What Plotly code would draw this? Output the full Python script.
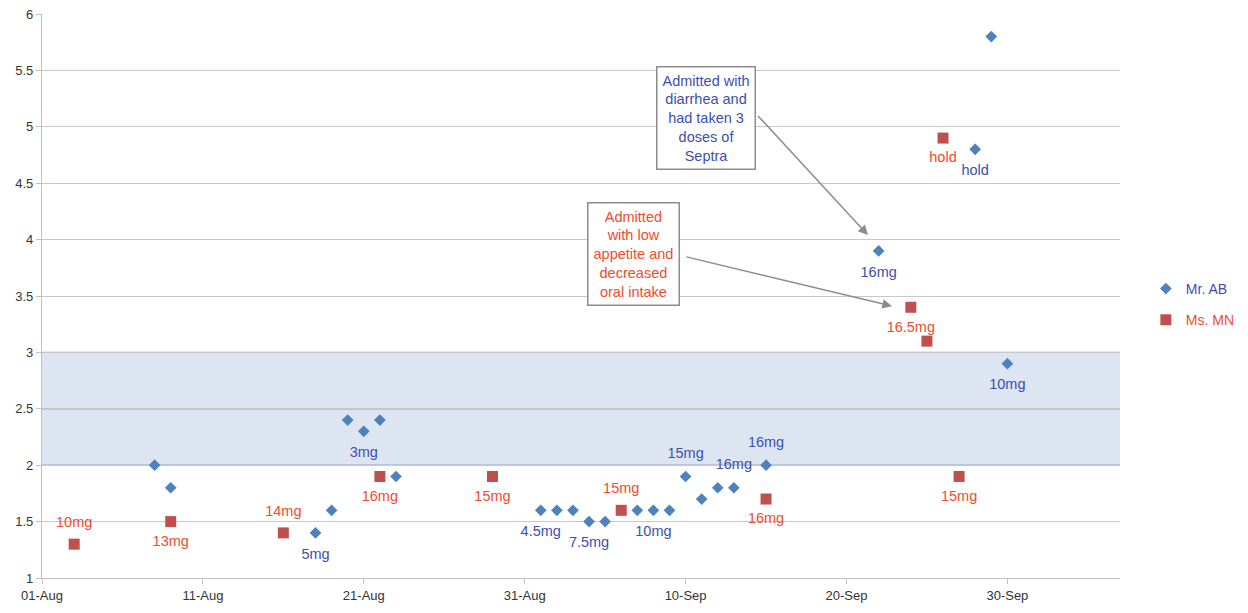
import plotly.graph_objects as go

# ---- data ----
ab_dates = ["2013-08-08", "2013-08-09", "2013-08-18", "2013-08-19", "2013-08-20", "2013-08-21",
            "2013-08-22", "2013-08-23", "2013-09-01", "2013-09-02", "2013-09-03", "2013-09-04",
            "2013-09-05", "2013-09-07", "2013-09-08", "2013-09-09", "2013-09-10", "2013-09-11",
            "2013-09-12", "2013-09-13", "2013-09-15", "2013-09-22", "2013-09-28", "2013-09-29",
            "2013-09-30"]
ab_values = [2.0, 1.8, 1.4, 1.6, 2.4, 2.3, 2.4, 1.9, 1.6, 1.6, 1.6, 1.5, 1.5, 1.6, 1.6, 1.6,
             1.9, 1.7, 1.8, 1.8, 2.0, 3.9, 4.8, 5.8, 2.9]
ab_labels = ["", "", "5mg", "", "", "3mg", "", "", "4.5mg", "", "", "7.5mg", "", "", "10mg", "",
             "15mg", "", "", "16mg", "16mg", "16mg", "hold", "", "10mg"]

mn_dates = ["2013-08-03", "2013-08-09", "2013-08-16", "2013-08-22", "2013-08-29", "2013-09-06",
            "2013-09-15", "2013-09-24", "2013-09-25", "2013-09-26", "2013-09-27"]
mn_values = [1.3, 1.5, 1.4, 1.9, 1.9, 1.6, 1.7, 3.4, 3.1, 4.9, 1.9]
mn_labels = ["10mg", "13mg", "14mg", "16mg", "15mg", "15mg", "16mg", "16.5mg", "", "hold", "15mg"]

band_low, band_high = 2.0, 3.0

# label placement (style)
ab_pos = ["bottom center"] * len(ab_values)
for i in (16, 19, 20):
    ab_pos[i] = "top center"
mn_pos = ["bottom center"] * len(mn_values)
for i in (0, 2, 5):
    mn_pos[i] = "top center"

BLUE_M = "#4f81bd"
RED_M = "#c0504d"
BLUE_T = "#3c4fb0"
RED_T = "#f04b2e"
FONT = "Liberation Sans, Arial, sans-serif"

fig = go.Figure()
# markers
fig.add_trace(go.Scatter(
    x=ab_dates, y=ab_values, mode="markers",
    marker=dict(symbol="diamond", size=9, color=BLUE_M),
    name=f"<span style='color:{BLUE_T}'>Mr. AB</span>", legendgroup="a",
))
fig.add_trace(go.Scatter(
    x=mn_dates, y=mn_values, mode="markers",
    marker=dict(symbol="square", size=11, color=RED_M),
    name=f"<span style='color:{RED_T}'>Ms. MN</span>", legendgroup="b",
))
# dose labels (invisible larger markers give the label offset)
fig.add_trace(go.Scatter(
    x=ab_dates, y=ab_values, mode="markers+text", text=ab_labels, textposition=ab_pos,
    textfont=dict(color=BLUE_T, size=14.5, family=FONT),
    marker=dict(size=22, opacity=0), showlegend=False, hoverinfo="skip",
))
fig.add_trace(go.Scatter(
    x=mn_dates, y=mn_values, mode="markers+text", text=mn_labels, textposition=mn_pos,
    textfont=dict(color=RED_T, size=14.5, family=FONT),
    marker=dict(size=20, opacity=0), showlegend=False, hoverinfo="skip",
))

# shaded band
fig.add_shape(type="rect", xref="paper", yref="y", x0=0, x1=1, y0=band_low, y1=band_high,
              fillcolor="#dde5f3", line=dict(width=0), layer="below")
for yv in (band_low, (band_low + band_high) / 2, band_high):
    fig.add_shape(type="line", xref="paper", yref="y", x0=0, x1=1, y0=yv, y1=yv,
                  line=dict(color="#98a6cc", width=1.2), layer="between")

# callout boxes
fig.add_annotation(x="2013-09-11 07:00", y=5.08, xref="x", yref="y", showarrow=False,
                   text="Admitted with<br>diarrhea and<br>had taken 3<br>doses of<br>Septra",
                   font=dict(color=BLUE_T, size=14.5, family=FONT), bgcolor="white",
                   bordercolor="#8c8c8c", borderwidth=1.5, borderpad=5, align="center")
fig.add_annotation(x="2013-09-06 19:00", y=3.87, xref="x", yref="y", showarrow=False,
                   text="Admitted<br>with low<br>appetite and<br>decreased<br>oral intake",
                   font=dict(color=RED_T, size=14.5, family=FONT), bgcolor="white",
                   bordercolor="#8c8c8c", borderwidth=1.5, borderpad=5, align="center")
# arrows
fig.add_annotation(x="2013-09-21 08:00", y=4.04, ax="2013-09-14 10:00", ay=5.11,
                   xref="x", yref="y", axref="x", ayref="y", text="", showarrow=True,
                   arrowhead=2, arrowsize=1.3, arrowwidth=1.5, arrowcolor="#8c8c8c")
fig.add_annotation(x="2013-09-22 20:00", y=3.41, ax="2013-09-09 23:00", ay=3.85,
                   xref="x", yref="y", axref="x", ayref="y", text="", showarrow=True,
                   arrowhead=2, arrowsize=1.3, arrowwidth=1.5, arrowcolor="#8c8c8c")

fig.update_layout(
    width=1248, height=613, autosize=False,
    margin=dict(l=42, r=128, t=14, b=35, autoexpand=False),
    paper_bgcolor="white", plot_bgcolor="white",
    font=dict(family=FONT, size=13, color="#333333"),
    showlegend=True,
    legend=dict(x=1.024, y=0.485, xanchor="left", yanchor="middle",
                font=dict(size=14, family=FONT), tracegroupgap=10,
                bgcolor="rgba(0,0,0,0)"),
    xaxis=dict(type="date", range=["2013-08-01", "2013-10-07"], automargin=False,
               tick0="2013-08-01", dtick=10 * 86400000, tickformat="%d-%b",
               showgrid=False, showline=True, linecolor="#c0c0c0", linewidth=1.2,
               ticks="outside", ticklen=5, tickcolor="#c0c0c0",
               tickfont=dict(size=13, color="#333333"), zeroline=False),
    yaxis=dict(range=[1, 6], dtick=0.5, showgrid=True, automargin=False,
               gridcolor="#c8c8c8", gridwidth=1.2, showline=True, linecolor="#c0c0c0",
               linewidth=1.2, ticks="outside", ticklen=5, tickcolor="#c0c0c0",
               tickfont=dict(size=13, color="#333333"), zeroline=False),
)

fig.write_html(
    "out.html",
    config={"responsive": False, "displayModeBar": False},
    default_width="1248px",
    default_height="613px",
    post_script="document.body.style.margin='0';document.body.style.overflow='hidden';",
)
